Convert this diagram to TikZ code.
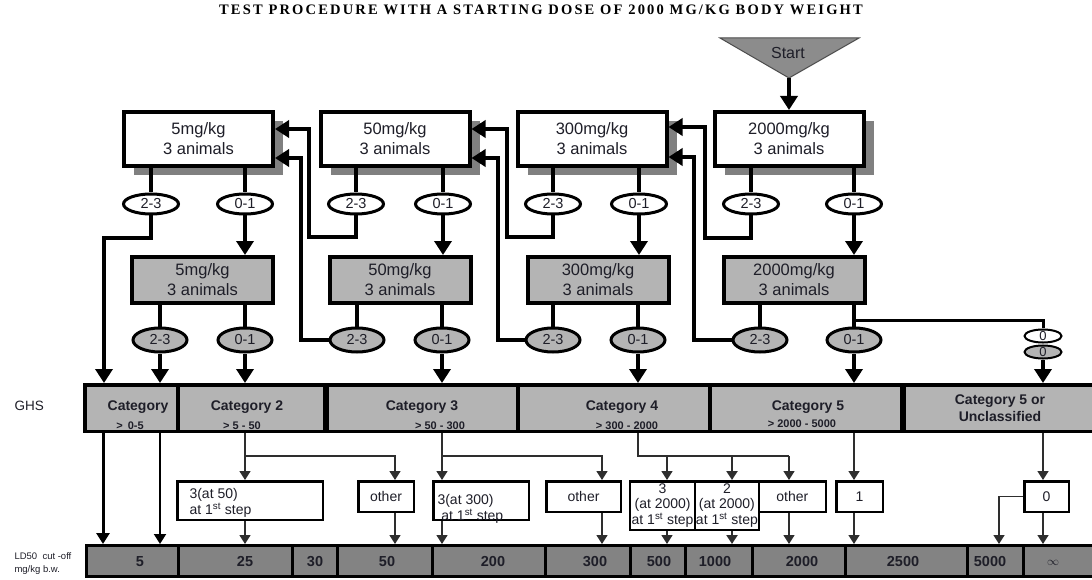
\documentclass[tikz,border=0pt]{standalone}
\usepackage{fontspec}
\setmainfont{Liberation Sans}
\newfontfamily\titlefont[LetterSpace=15]{Liberation Serif}
\usetikzlibrary{arrows.meta,shadows,shapes.geometric}

\definecolor{boxgray}{HTML}{B4B4B4}
\definecolor{bargray}{HTML}{838383}
\definecolor{shadowgray}{HTML}{808080}
\definecolor{startgray}{HTML}{8C8C8C}
\definecolor{ink}{HTML}{1E1E28}
\definecolor{thinline}{HTML}{2E2E2E}

\begin{document}
\begin{tikzpicture}[x=1pt,y=-1pt,
  dosebox/.style={draw, line width=4pt, fill=white, minimum width=149pt, minimum height=54pt,
    inner sep=0pt, align=center, text=ink, font=\fontsize{16.5}{20}\selectfont,
    drop shadow={shadow xshift=10pt, shadow yshift=-9pt, fill=shadowgray, opacity=1}},
  repbox/.style={draw, line width=4pt, fill=boxgray, minimum width=141pt, minimum height=46pt,
    inner sep=0pt, align=center, text=ink, font=\fontsize{16.5}{20}\selectfont},
  outw/.style={ellipse, draw, line width=3pt, fill=white, minimum width=55pt, minimum height=20pt,
    inner sep=0pt, text=ink, font=\fontsize{14.5}{15}\selectfont},
  outg/.style={outw, fill=boxgray, minimum width=54pt, minimum height=24pt},
  zerow/.style={ellipse, draw, line width=2pt, fill=white, minimum width=37pt, minimum height=12pt,
    inner sep=0pt, text=ink, font=\fontsize{13}{13}\selectfont},
  zerog/.style={zerow, fill=boxgray},
  flow/.style={line width=4pt, -{Triangle[width=17pt,length=14pt]}},
  link/.style={line width=4pt},
  catcell/.style={draw, line width=3.5pt, fill=boxgray, minimum height=46.5pt, inner sep=0pt},
  ldcell/.style={draw, line width=3pt, fill=bargray, minimum height=31pt, inner sep=0pt},
  cattext/.style={text=ink, font=\bfseries\fontsize{14}{17}\selectfont, align=center},
  rangetext/.style={text=ink, font=\bfseries\fontsize{11}{12}\selectfont},
  ldtext/.style={text=ink, font=\bfseries\fontsize{14.5}{15}\selectfont},
  resbox/.style={draw, line width=2.5pt, fill=white, inner sep=0pt, text=ink,
    font=\fontsize{14}{15.5}\selectfont, align=center},
  restext/.style={text=ink, font=\fontsize{14}{16}\selectfont, align=left},
  thin/.style={line width=1.6pt, draw=thinline, -{Triangle[width=11pt,length=9pt]}},
  thinlink/.style={line width=1.6pt, draw=thinline}
]
\useasboundingbox (0,0) rectangle (1092,580);

% heading
\node[font=\titlefont\bfseries\fontsize{14.5}{15}\selectfont] (title) at (541,10)
  {TEST PROCEDURE WITH A STARTING DOSE OF 2000 MG/KG BODY WEIGHT};

% start marker
\coordinate (stl) at (720,38);
\coordinate (str) at (859,38);
\coordinate (apex) at (789,78);
\filldraw[fill=startgray, draw=black!70, line width=1pt] (stl) -- (str) -- (apex) -- cycle;
\node[text=ink, font=\fontsize{16}{18}\selectfont] (start) at (788,53) {Start};

% first group of three animals per dose
\node[dosebox] (b1) at (198.5,139) {5mg/kg\\3 animals};
\node[dosebox] (b2) at (395,139) {50mg/kg\\3 animals};
\node[dosebox] (b3) at (592,139) {300mg/kg\\3 animals};
\node[dosebox] (b4) at (789,139) {2000mg/kg\\3 animals};

% second group of three animals per dose
\node[repbox] (g1) at (202.5,280) {5mg/kg\\3 animals};
\node[repbox] (g2) at (400,280) {50mg/kg\\3 animals};
\node[repbox] (g3) at (598,280) {300mg/kg\\3 animals};
\node[repbox] (g4) at (794,280) {2000mg/kg\\3 animals};

% outcomes of the first group
\node[outw] (e1a) at (151,204) {2-3};
\node[outw] (e1b) at (245,204) {0-1};
\node[outw] (e2a) at (356,204) {2-3};
\node[outw] (e2b) at (443,204) {0-1};
\node[outw] (e3a) at (553,204) {2-3};
\node[outw] (e3b) at (639,204) {0-1};
\node[outw] (e4a) at (751,204) {2-3};
\node[outw] (e4b) at (854,204) {0-1};

% outcomes of the second group
\node[outg] (h1a) at (160,340) {2-3};
\node[outg] (h1b) at (245,340) {0-1};
\node[outg] (h2a) at (357,340) {2-3};
\node[outg] (h2b) at (442,340) {0-1};
\node[outg] (h3a) at (553,340) {2-3};
\node[outg] (h3b) at (638,340) {0-1};
\node[outg] (h4a) at (760,340) {2-3};
\node[outg] (h4b) at (854,340) {0-1};
\node[zerow] (z1) at (1043,336) {0};
\node[zerog] (z2) at (1043,352) {0};

% GHS classification bar
\node[catcell, minimum width=93.25pt] (c1) at (131.375,408) {};
\node[catcell, minimum width=147pt] (c2) at (251.5,408) {};
\node[catcell, minimum width=193pt] (c3) at (421.5,408) {};
\node[catcell, minimum width=192pt] (c4) at (614,408) {};
\node[catcell, minimum width=192pt] (c5) at (806,408) {};
\node[catcell, minimum width=203pt] (c6) at (1003.5,408) {};
\draw[line width=5pt] (c2.north east) -- (c2.south east);
\draw[line width=5pt] (c5.north east) -- (c5.south east);
\node[cattext] (t1) at (138,407) {Category};
\node[cattext] (t2) at (247,407) {Category 2};
\node[cattext] (t3) at (422,407) {Category 3};
\node[cattext] (t4) at (622,407) {Category 4};
\node[cattext] (t5) at (808,407) {Category 5};
\node[cattext] (t6) at (1000,408.5) {Category 5 or\\Unclassified};
\node[rangetext] (r1) at (130,426) {>\hspace{5pt}0-5};
\node[rangetext] (r2) at (242,426) {> 5 - 50};
\node[rangetext] (r3) at (440,426) {>\hspace{3pt}50 - 300};
\node[rangetext] (r4) at (627,426) {> 300 - 2000};
\node[rangetext] (r5) at (802,424) {>\hspace{3pt}2000 - 5000};
\node[anchor=west, text=ink, font=\fontsize{13.5}{15}\selectfont] (ghs) at (11,406) {GHS};

% LD50 cut-off bar
\node[ldcell, minimum width=91.5pt] (l1) at (132.25,561) {};
\node[ldcell, minimum width=114pt] (l2) at (235,561) {};
\node[ldcell, minimum width=45pt] (l3) at (314.5,561) {};
\node[ldcell, minimum width=95pt] (l4) at (384.5,561) {};
\node[ldcell, minimum width=113pt] (l5) at (488.5,561) {};
\node[ldcell, minimum width=85pt] (l6) at (587.5,561) {};
\node[ldcell, minimum width=55pt] (l7) at (657.5,561) {};
\node[ldcell, minimum width=67pt] (l8) at (718.5,561) {};
\node[ldcell, minimum width=93pt] (l9) at (798.5,561) {};
\node[ldcell, minimum width=122pt] (l10) at (906,561) {};
\node[ldcell, minimum width=56pt] (l11) at (995,561) {};
\node[ldcell, minimum width=82pt] (l12) at (1064,561) {};
\foreach \x/\v [count=\i] in {140/5, 245/25, 315/30, 387/50, 493/200, 595/300,
    659/500, 715/1000, 802/2000, 903/2500, 990/5000}
  \node[ldtext] (n\i) at (\x,562) {\v};
\node[text=ink, font=\fontsize{13}{14}\selectfont] (ninf) at (1053,563) {$\infty$};
\node[anchor=west, align=left, text=ink, font=\fontsize{9.5}{13}\selectfont] (ldname) at (11,563.5)
  {LD50\ \ cut -off\\mg/kg b.w.};

% results boxes
\node[resbox, minimum width=145.5pt, minimum height=38.5pt] (p1) at (250,500.5) {};
\node[restext, anchor=west] (p1t) at (186,503) {3(at 50)\\at 1\textsuperscript{st} step};
\node[resbox, minimum width=55.5pt, minimum height=30.5pt] (o1) at (386,496.5) {other};
\node[resbox, minimum width=95.5pt, minimum height=38.5pt] (p2) at (481,500.5) {};
\node[restext, anchor=west] (p2t) at (434,509) {3(at 300)\\\ at 1\textsuperscript{st} step};
\node[resbox, minimum width=74.5pt, minimum height=30.5pt] (o2) at (583.5,496.5) {other};
\node[resbox, minimum width=64.75pt, minimum height=48.5pt] (p3) at (662.6,505.5)
  {3\\(at 2000)\\at 1\textsuperscript{st} step};
\node[resbox, minimum width=63.75pt, minimum height=48.5pt] (p4) at (726.9,505.5)
  {2\\(at 2000)\\at 1\textsuperscript{st} step};
\node[resbox, minimum width=66.75pt, minimum height=30.5pt] (o3) at (792.4,496.5) {other};
\node[resbox, minimum width=46.5pt, minimum height=30.5pt] (q1) at (859.5,496.5) {1};
\node[resbox, minimum width=44.5pt, minimum height=30.5pt] (q0) at (1046.5,496.5) {0};

% routing points
\coordinate (lft) at (104,238);
\coordinate (rt1) at (309,237);
\coordinate (rt2) at (507,237);
\coordinate (rt3) at (705,238);
\coordinate (up1) at (301,158);
\coordinate (up2) at (498,158);
\coordinate (up3) at (694,157);
\coordinate (br) at (854,320);
\coordinate (k0) at (103,456);
\coordinate (k1) at (160,456);
\coordinate (k2) at (245,456);
\coordinate (k2b) at (395,456);
\coordinate (k3) at (442,456);
\coordinate (k3b) at (602,456);
\coordinate (k4) at (638,456);
\coordinate (k4a) at (667,456);
\coordinate (k4b) at (732,456);
\coordinate (k4c) at (789,456);
\coordinate (k5) at (854,456);
\coordinate (k6) at (1043,456);
\coordinate (k7) at (999,456);

% start to the first dose
\draw[flow] (apex) -- (b4.north);

% first group to its outcomes
\foreach \b/\e in {b1/e1a, b1/e1b, b2/e2a, b2/e2b, b3/e3a, b3/e3b, b4/e4a, b4/e4b}
  \draw[link] (\e |- \b.south) -- (\e.north);
\foreach \e/\g in {e1b/g1, e2b/g2, e3b/g3, e4b/g4}
  \draw[flow] (\e.south) -- (\e |- \g.north);

% 2-3 deaths in the first group: next lower dose
\draw[flow] (e1a.south) |- (lft) -- (lft |- c1.north);
\draw[flow] (e2a.south) |- (rt1) |- ([yshift=10pt]b1.east);
\draw[flow] (e3a.south) |- (rt2) |- ([yshift=10pt]b2.east);
\draw[flow] (e4a.south) |- (rt3) |- ([yshift=12pt]b3.east);

% second group to its outcomes
\foreach \g/\h in {g1/h1a, g1/h1b, g2/h2a, g2/h2b, g3/h3a, g3/h3b, g4/h4a, g4/h4b}
  \draw[link] (\h |- \g.south) -- (\h.north);
\draw[flow] (h1a.south) -- (h1a |- c1.north);
\draw[flow] (h1b.south) -- (h1b |- c2.north);
\draw[flow] (h2b.south) -- (h2b |- c3.north);
\draw[flow] (h3b.south) -- (h3b |- c4.north);
\draw[flow] (h4b.south) -- (h4b |- c5.north);
\draw[flow] (h2a.west) -| (up1) -- (up1 -| b1.east);
\draw[flow] (h3a.west) -| (up2) -- (up2 -| b2.east);
\draw[flow] (h4a.west) -| (up3) -- (up3 -| b3.east);

% no deaths at 2000 mg/kg
\draw[line width=3pt] (br) -| (z1.north);
\draw[flow] (z2.south) -- (z2 |- c6.north);

% classification to LD50 cut-off
\draw[line width=3pt, -{Triangle[width=13pt,length=11pt]}] (k0 |- c1.south) -- (k0 |- l1.north);
\draw[line width=2pt, -{Triangle[width=12pt,length=10pt]}] (k1 |- c1.south) -- (k1 |- l1.north);

\draw[thin] (k2 |- c2.south) -- (k2 |- p1.north);
\draw[thin] (k2) -- (k2b) -- (k2b |- o1.north);
\draw[thin] (k2 |- p1.south) -- (k2 |- l2.north);
\draw[thin] (k2b |- o1.south) -- (k2b |- l4.north);

\draw[thin] (k3 |- c3.south) -- (k3 |- p2.north);
\draw[thin] (k3) -- (k3b) -- (k3b |- o2.north);
\draw[thin] (k3 |- p2.south) -- (k3 |- l5.north);
\draw[thin] (k3b |- o2.south) -- (k3b |- l6.north);

\draw[thinlink] (k4 |- c4.south) -- (k4) -- (k4c);
\draw[thin] (k4a) -- (k4a |- p3.north);
\draw[thin, line width=2.4pt] (k4b) -- (k4b |- p4.north);
\draw[thin] (k4c) -- (k4c |- o3.north);
\draw[thin] (k4a |- p3.south) -- (k4a |- l7.north);
\draw[thin, line width=2.4pt] (k4b |- p4.south) -- (k4b |- l8.north);
\draw[thin] (k4c |- o3.south) -- (k4c |- l9.north);

\draw[thin] (k5 |- c5.south) -- (k5 |- q1.north);
\draw[thin] (k5 |- q1.south) -- (k5 |- l10.north);

\draw[thin] (k6 |- c6.south) -- (k6 |- q0.north);
\draw[thin] (k6 |- q0.south) -- (k6 |- l12.north);
\draw[thin] (q0.west) -| (k7 |- l11.north);
\end{tikzpicture}
\end{document}
